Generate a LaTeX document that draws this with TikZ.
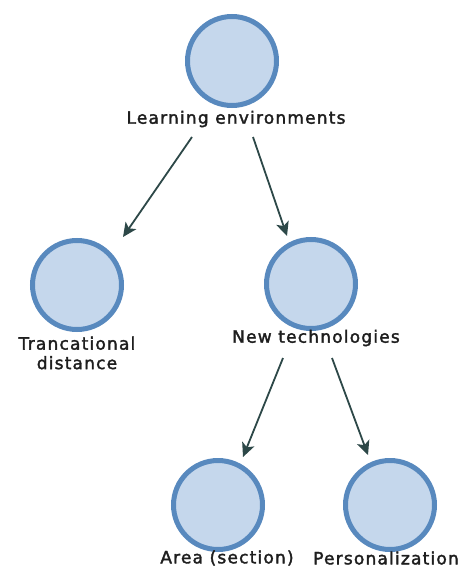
\documentclass[tikz,border=0pt]{standalone}
\usepackage{fontspec}
\setmainfont{DejaVu Sans}[LetterSpace=7, FakeBold=2]
\usetikzlibrary{arrows.meta}
\definecolor{cfill}{RGB}{197,215,236}
\definecolor{cline}{RGB}{88,137,190}
\definecolor{arr}{RGB}{45,72,72}
\definecolor{txt}{RGB}{30,30,30}
\tikzset{
  topic/.style={circle, draw=cline, fill=cfill, line width=5pt, minimum size=89pt, inner sep=0pt},
  lbl/.style={text=txt, font=\fontsize{17}{19.5}\selectfont, inner sep=0pt, align=center},
  link/.style={draw=arr, line width=1.8pt, -{Stealth[length=14pt, width=13pt, inset=3.5pt]}}
}
\begin{document}
\begin{tikzpicture}[x=1pt,y=-1pt]
\useasboundingbox (0,0) rectangle (462,572);
\node[topic] (c1) at (232,61) {};
\node[topic] (c2) at (77,285) {};
\node[topic] (c3) at (311,284) {};
\node[topic] (c4) at (218,505) {};
\node[topic] (c5) at (390,505) {};
\node[lbl] (t1) at (236,119) {Learning environments};
\node[lbl] (t2) at (77,353) {Trancational\\distance};
\node[lbl] (t3) at (316,338) {New technologies};
\node[lbl] (t4) at (227,558) {Area (section)};
\node[lbl] (t5) at (386,558) {Personalization};
\coordinate (a1s) at (192,137);
\coordinate (a1e) at (123,237);
\coordinate (a2s) at (253,137);
\coordinate (a2e) at (287,236);
\coordinate (a3s) at (283,358);
\coordinate (a3e) at (243,457);
\coordinate (a4s) at (332,358);
\coordinate (a4e) at (368,455);
\draw[link] (a1s) -- (a1e);
\draw[link] (a2s) -- (a2e);
\draw[link] (a3s) -- (a3e);
\draw[link] (a4s) -- (a4e);
\end{tikzpicture}
\end{document}
